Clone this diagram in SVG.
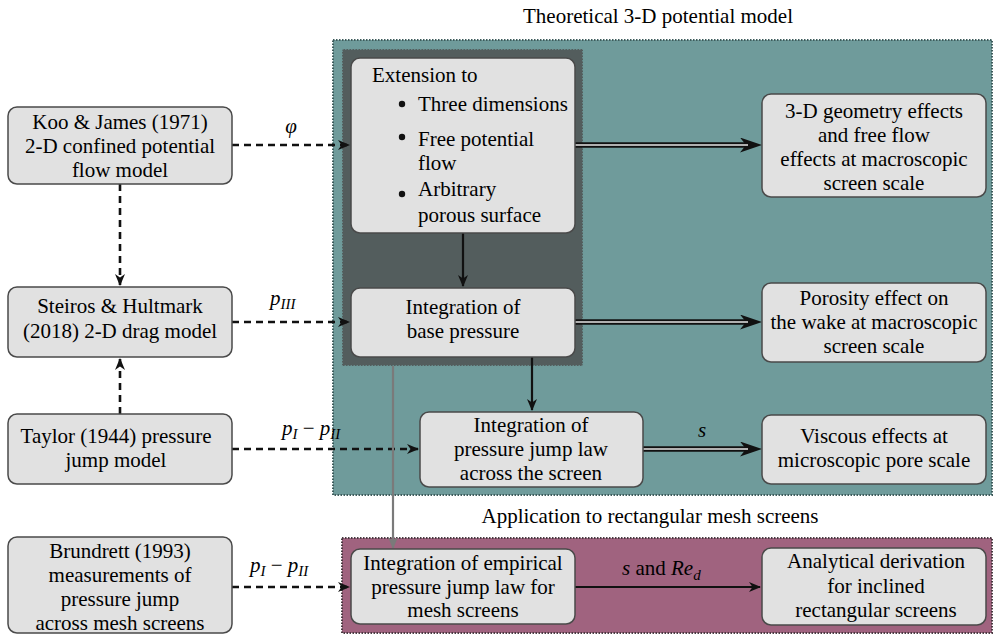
<svg xmlns="http://www.w3.org/2000/svg" width="994" height="636" viewBox="0 0 994 636">
<style>
.box{fill:#e1e1e1;stroke:#4a4a4a;stroke-width:1.5}
.dash{fill:none;stroke:#111;stroke-width:2.6;stroke-dasharray:7,5}
.solid{fill:none;stroke:#111;stroke-width:2.2}
.dblo{fill:none;stroke:#111;stroke-width:5.5}
.dbli{fill:none;stroke:#e6e6e6;stroke-width:1.6}
</style>
<defs>
<marker id="ah" viewBox="0 0 12 10" markerWidth="12" markerHeight="10" markerUnits="userSpaceOnUse" refX="11" refY="5" orient="auto">
<path d="M0,0 L12,5 L0,10 L3.5,5 z" fill="#111"/>
</marker>
<marker id="ahg" viewBox="0 0 12 10" markerWidth="12" markerHeight="10" markerUnits="userSpaceOnUse" refX="11" refY="5" orient="auto">
<path d="M0,0 L12,5 L0,10 L3.5,5 z" fill="#7a7a7a"/>
</marker>
<marker id="ahb" viewBox="0 0 22 15" markerWidth="22" markerHeight="15" markerUnits="userSpaceOnUse" refX="13" refY="7.5" orient="auto">
<path d="M0,0 L22,7.5 L0,15 L6,7.5 z" fill="#111"/>
</marker>
</defs>

<g id="groups">
<rect x="333" y="40" width="659" height="455" fill="#6f9b9b" stroke="#3e5c5c" stroke-width="2" stroke-dasharray="1.5,1.5"/>
<rect x="342" y="49" width="241" height="317" fill="#535d5d" stroke="#6f9b9b" stroke-width="1.5" stroke-dasharray="1.5,1.5"/>
<rect x="342" y="538" width="650" height="95" fill="#a0637f" stroke="#4a3a42" stroke-width="2" stroke-dasharray="1.5,1.5"/>
<text font-family="Liberation Serif" font-size="21" text-anchor="middle" x="658" y="23">Theoretical 3-D potential model</text>
<text font-family="Liberation Serif" font-size="21" text-anchor="middle" x="650" y="523">Application to rectangular mesh screens</text>
</g>

<g id="connectors">
<path class="dash" d="M232,145 H349" marker-end="url(#ah)"/>
<path class="dash" d="M120,184 V285" marker-end="url(#ah)"/>
<path class="dash" d="M120,414 V359" marker-end="url(#ah)"/>
<path class="dash" d="M232,322 H349" marker-end="url(#ah)"/>
<path class="dash" d="M232,449 H418" marker-end="url(#ah)"/>
<path class="dash" d="M232,587 H349" marker-end="url(#ah)"/>
<path class="solid" d="M463,233 V286" marker-end="url(#ah)"/>
<path class="solid" d="M532,357 V410" marker-end="url(#ah)"/>
<path class="solid" d="M575,587 H760" stroke-width="2.6" marker-end="url(#ah)"/>
<path fill="none" stroke="#7a7a7a" stroke-width="2.2" d="M393,366 V548" marker-end="url(#ahg)"/>
<path class="dblo" d="M575,145 H753" marker-end="url(#ahb)"/>
<path class="dbli" d="M575,145 H748"/>
<path class="dblo" d="M575,322 H753" marker-end="url(#ahb)"/>
<path class="dbli" d="M575,322 H748"/>
<path class="dblo" d="M643,449 H753" marker-end="url(#ahb)"/>
<path class="dbli" d="M643,449 H748"/>
<text font-family="Liberation Serif" font-size="21" font-style="italic" text-anchor="middle" x="291" y="133">φ</text>
<text font-family="Liberation Serif" font-size="21" font-style="italic" x="270" y="305">p<tspan font-size="15" dy="4">III</tspan></text>
<text font-family="Liberation Serif" font-size="21" font-style="italic" x="282" y="435">p<tspan font-size="15" dy="4">I</tspan><tspan font-style="normal" dy="-4"> − </tspan>p<tspan font-size="15" dy="4">II</tspan></text>
<text font-family="Liberation Serif" font-size="21" font-style="italic" x="250" y="572">p<tspan font-size="15" dy="4">I</tspan><tspan font-style="normal" dy="-4"> − </tspan>p<tspan font-size="15" dy="4">II</tspan></text>
<text font-family="Liberation Serif" font-size="21" font-style="italic" text-anchor="middle" x="702" y="437">s</text>
<text font-family="Liberation Serif" font-size="21" font-style="italic" x="622" y="575">s<tspan font-style="normal"> and </tspan>Re<tspan font-size="15" dy="5">d</tspan></text>
</g>

<g id="koo">
<rect class="box" x="8" y="107" width="224" height="77" rx="9"/>
<text font-family="Liberation Serif" font-size="21" text-anchor="middle" x="120" y="129">Koo &amp; James (1971)</text>
<text font-family="Liberation Serif" font-size="21" text-anchor="middle" x="120" y="153">2-D confined potential</text>
<text font-family="Liberation Serif" font-size="21" text-anchor="middle" x="120" y="177">flow model</text>
</g>
<g id="steiros">
<rect class="box" x="8" y="287" width="224" height="70" rx="9"/>
<text font-family="Liberation Serif" font-size="21" text-anchor="middle" x="120" y="313">Steiros &amp; Hultmark</text>
<text font-family="Liberation Serif" font-size="21" text-anchor="middle" x="120" y="338">(2018) 2-D drag model</text>
</g>
<g id="taylor">
<rect class="box" x="8" y="414" width="224" height="70" rx="9"/>
<text font-family="Liberation Serif" font-size="21" text-anchor="middle" x="116" y="443">Taylor (1944) pressure</text>
<text font-family="Liberation Serif" font-size="21" text-anchor="middle" x="116" y="467">jump model</text>
</g>
<g id="brundrett">
<rect class="box" x="8" y="537" width="224" height="96" rx="9"/>
<text font-family="Liberation Serif" font-size="21" text-anchor="middle" x="120" y="558">Brundrett (1993)</text>
<text font-family="Liberation Serif" font-size="21" text-anchor="middle" x="120" y="582">measurements of</text>
<text font-family="Liberation Serif" font-size="21" text-anchor="middle" x="120" y="606">pressure jump</text>
<text font-family="Liberation Serif" font-size="21" text-anchor="middle" x="120" y="630">across mesh screens</text>
</g>
<g id="extension">
<rect class="box" x="351" y="58" width="224" height="175" rx="9"/>
<text font-family="Liberation Serif" font-size="21" x="372" y="82">Extension to</text>
<circle cx="402" cy="104" r="3.2" fill="#111"/>
<text font-family="Liberation Serif" font-size="21" x="418" y="111">Three dimensions</text>
<circle cx="402" cy="137" r="3.2" fill="#111"/>
<text font-family="Liberation Serif" font-size="21" x="418" y="146">Free potential</text>
<text font-family="Liberation Serif" font-size="21" x="418" y="170">flow</text>
<circle cx="402" cy="194" r="3.2" fill="#111"/>
<text font-family="Liberation Serif" font-size="21" x="418" y="196">Arbitrary</text>
<text font-family="Liberation Serif" font-size="21" x="418" y="222">porous surface</text>
</g>
<g id="base">
<rect class="box" x="351" y="288" width="224" height="69" rx="9"/>
<text font-family="Liberation Serif" font-size="21" text-anchor="middle" x="463" y="314">Integration of</text>
<text font-family="Liberation Serif" font-size="21" text-anchor="middle" x="463" y="338">base pressure</text>
</g>
<g id="jump">
<rect class="box" x="420" y="412" width="223" height="75" rx="9"/>
<text font-family="Liberation Serif" font-size="21" text-anchor="middle" x="531" y="432">Integration of</text>
<text font-family="Liberation Serif" font-size="21" text-anchor="middle" x="531" y="456">pressure jump law</text>
<text font-family="Liberation Serif" font-size="21" text-anchor="middle" x="531" y="480">across the screen</text>
</g>
<g id="geometry">
<rect class="box" x="762" y="94" width="224" height="103" rx="9"/>
<text font-family="Liberation Serif" font-size="21" text-anchor="middle" x="874" y="118">3-D geometry effects</text>
<text font-family="Liberation Serif" font-size="21" text-anchor="middle" x="874" y="142">and free flow</text>
<text font-family="Liberation Serif" font-size="21" text-anchor="middle" x="874" y="166">effects at macroscopic</text>
<text font-family="Liberation Serif" font-size="21" text-anchor="middle" x="874" y="190">screen scale</text>
</g>
<g id="porosity">
<rect class="box" x="762" y="283" width="224" height="79" rx="9"/>
<text font-family="Liberation Serif" font-size="21" text-anchor="middle" x="874" y="305">Porosity effect on</text>
<text font-family="Liberation Serif" font-size="21" text-anchor="middle" x="874" y="329">the wake at macroscopic</text>
<text font-family="Liberation Serif" font-size="21" text-anchor="middle" x="874" y="353">screen scale</text>
</g>
<g id="viscous">
<rect class="box" x="762" y="415" width="224" height="69" rx="9"/>
<text font-family="Liberation Serif" font-size="21" text-anchor="middle" x="874" y="443">Viscous effects at</text>
<text font-family="Liberation Serif" font-size="21" text-anchor="middle" x="874" y="467">microscopic pore scale</text>
</g>
<g id="empirical">
<rect class="box" x="351" y="549" width="224" height="75" rx="9"/>
<text font-family="Liberation Serif" font-size="21" text-anchor="middle" x="463" y="570">Integration of empirical</text>
<text font-family="Liberation Serif" font-size="21" text-anchor="middle" x="463" y="594">pressure jump law for</text>
<text font-family="Liberation Serif" font-size="21" text-anchor="middle" x="463" y="617">mesh screens</text>
</g>
<g id="analytical">
<rect class="box" x="762" y="548" width="224" height="77" rx="9"/>
<text font-family="Liberation Serif" font-size="21" text-anchor="middle" x="876" y="568">Analytical derivation</text>
<text font-family="Liberation Serif" font-size="21" text-anchor="middle" x="876" y="593">for inclined</text>
<text font-family="Liberation Serif" font-size="21" text-anchor="middle" x="876" y="617">rectangular screens</text>
</g>
</svg>
